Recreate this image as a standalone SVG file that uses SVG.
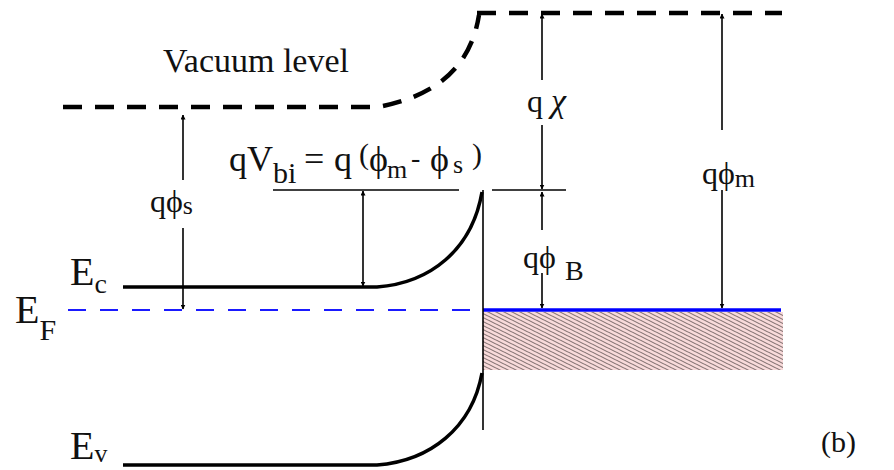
<svg xmlns="http://www.w3.org/2000/svg" width="894" height="470" viewBox="0 0 894 470">
<style>
text{font-family:"Liberation Serif","Times New Roman",serif;fill:#111}
.band{fill:none;stroke:#000;stroke-width:3.5}
.vac{fill:none;stroke:#000;stroke-width:4.5;stroke-dasharray:19 13}
.thin{fill:none;stroke:#000;stroke-width:1.6}
.arr{fill:none;stroke:#000;stroke-width:1.6;marker-start:url(#ahs);marker-end:url(#ah)}
.arr1{fill:none;stroke:#000;stroke-width:1.6;marker-end:url(#ah)}
</style>
<defs>
<marker id="ah" viewBox="0 0 10 10" refX="9" refY="5" markerWidth="5" markerHeight="5" markerUnits="userSpaceOnUse" orient="auto">
<path d="M0,0 L10,5 L0,10 Z" fill="#000"/>
</marker>
<marker id="ahs" viewBox="0 0 10 10" refX="1" refY="5" markerWidth="5" markerHeight="5" markerUnits="userSpaceOnUse" orient="auto">
<path d="M10,0 L0,5 L10,10 Z" fill="#000"/>
</marker>
<pattern id="hatch" width="8" height="4" patternUnits="userSpaceOnUse">
<rect width="8" height="4" fill="#f8dada"/>
<path d="M-8,-4 L16,8 M-8,0 L8,8 M0,-4 L16,4" stroke="#857474" stroke-width="1.1"/>
</pattern>
</defs>

<g id="vacuum">
<path class="vac" d="M63,107 L383,107"/>
<path class="vac" d="M383,106 C430,96 470,72 479,15" stroke-dasharray="14 10"/>
<path class="vac" d="M477,13 L782,13"/>
<text x="163" y="72" font-size="34">Vacuum level</text>
</g>

<g id="Ec">
<path class="band" d="M123,287 L377,287 C430,283 472,250 482,192"/>
<text x="70" y="285" font-size="40">E<tspan font-size="28" dy="8">c</tspan></text>
</g>

<g id="Ev">
<path class="band" d="M123,465 L377,465 C430,461 472,428 482,373"/>
<text x="70" y="459" font-size="40">E<tspan font-size="26" dy="3">v</tspan></text>
</g>

<g id="EF">
<path d="M68,310 L483,310" stroke="#1a1aff" stroke-width="2" stroke-dasharray="18 14" fill="none"/>
<text x="15" y="323" font-size="40">E<tspan font-size="30" dy="17">F</tspan></text>
</g>

<g id="metal">
<rect x="483" y="312" width="300" height="58" fill="url(#hatch)"/>
<path d="M483,310 L781,310" stroke="#0000ff" stroke-width="3.5"/>
<path class="thin" d="M483,190 L483,430"/>
</g>

<g id="connectors">
<path class="arr1" d="M183,180 L183,115"/>
<path class="arr1" d="M183,228 L183,309"/>
<path class="thin" d="M273,190 L459,190"/>
<path class="thin" d="M492,190 L566,190"/>
<path class="arr" d="M363,191 L363,286"/>
<path class="arr1" d="M542,80 L542,14"/>
<path class="arr1" d="M542,125 L542,189"/>
<path class="arr1" d="M542,230 L542,192"/>
<path class="arr1" d="M542,273 L542,308"/>
<path class="arr1" d="M722,130 L722,14"/>
<path class="arr1" d="M722,190 L722,308"/>
</g>

<g id="labels">
<text x="150" y="212" font-size="32">qϕ<tspan font-size="26" dy="2">s</tspan></text>
<g id="qvbi" font-size="36">
<text x="229" y="171">qV</text>
<text x="273" y="183" font-size="30">bi</text>
<text x="304" y="171">=</text>
<text x="334" y="171">q</text>
<text x="359" y="164" font-size="30">(</text>
<text x="369" y="171">ϕ</text>
<text x="387" y="178" font-size="26">m</text>
<text x="411" y="167" font-size="28">-</text>
<text x="430" y="171">ϕ</text>
<text x="453" y="173" font-size="26">s</text>
<text x="472" y="164" font-size="30">)</text>
</g>
<text x="527" y="112" font-size="32">q <tspan font-style="italic" font-size="34">χ</tspan></text>
<text x="523" y="268" font-size="32">qϕ</text>
<text x="565" y="280" font-size="28">B</text>
<text x="702" y="184" font-size="32">qϕ<tspan font-size="26" dy="3">m</tspan></text>
<text x="821" y="452" font-size="30">(b)</text>
</g>
</svg>
